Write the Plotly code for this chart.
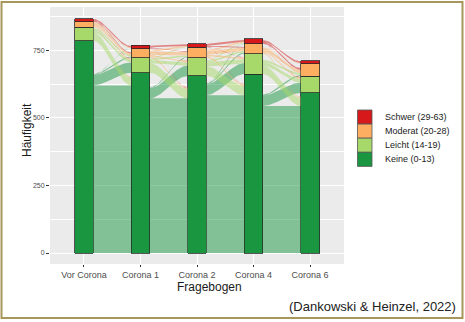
import numpy as np
import plotly.graph_objects as go

# ---------------- data ----------------
waves = ["Vor Corona", "Corona 1", "Corona 2", "Corona 4", "Corona 6"]
categories = ["Keine (0-13)", "Leicht (14-19)", "Moderat (20-28)", "Schwer (29-63)"]
colors = ["#1a9641", "#a6d96a", "#fdae61", "#d7191c"]

keine = [785, 667, 655, 662, 592]
leicht = [51, 56, 68, 75, 62]
moderat = [20, 33, 39, 37, 46]
schwer = [10, 13, 12, 19, 11]

# transitions between consecutive questionnaires
# rows: from (Keine, Leicht, Moderat, Schwer), cols: to (same order)
trans_vor_c1 = [[620, 38, 3, 1], [30, 10, 5, 1], [3, 4, 8, 3], [0, 1, 3, 5]]
trans_c1_c2 = [[572, 38, 3, 0], [35, 12, 5, 1], [4, 6, 12, 3], [1, 1, 3, 6]]
trans_c2_c4 = [[584, 40, 4, 1], [35, 15, 6, 2], [5, 6, 12, 5], [1, 1, 3, 6]]
trans_c4_c6 = [[544, 38, 4, 0], [30, 14, 8, 1], [4, 5, 12, 2], [0, 1, 6, 6]]

y_ticks = [0, 250, 500, 750]

# ---------------- figure ----------------
counts = [keine, leicht, moderat, schwer]
transitions = [trans_vor_c1, trans_c1_c2, trans_c2_c4, trans_c4_c6]

W, H = 465, 322
ML, MR, MT, MB = 50, 121, 7, 58
PW, PH = W - ML - MR, H - MT - MB


def px2x(px):
    return (px - ML) / PW


def px2y(py):
    return (H - MB - py) / PH


def rgba(hexc, a):
    hexc = hexc.lstrip("#")
    r, g, b = int(hexc[0:2], 16), int(hexc[2:4], 16), int(hexc[4:6], 16)
    return f"rgba({r},{g},{b},{a})"


fig = go.Figure()

bar_w = 1 / 3
t = np.linspace(0, 1, 40)
s = 3 * t**2 - 2 * t**3

for i, T in enumerate(transitions):
    nl = [c[i] for c in counts]
    nr = [c[i + 1] for c in counts]
    left_bottom = np.concatenate([[0], np.cumsum(nl)[:-1]]).astype(float)
    right_bottom = np.concatenate([[0], np.cumsum(nr)[:-1]]).astype(float)
    # left: outgoing flows stacked by destination
    lpos = {}
    off = left_bottom.copy()
    for a in range(4):
        for b in range(4):
            n = T[a][b]
            lpos[(a, b)] = (off[a], off[a] + n)
            off[a] += n
    # right: incoming flows stacked by source
    rpos = {}
    off = right_bottom.copy()
    for b in range(4):
        for a in range(4):
            n = T[a][b]
            rpos[(a, b)] = (off[b], off[b] + n)
            off[b] += n
    xl = i + bar_w / 2
    xr = i + 1 - bar_w / 2
    xs = xl + (xr - xl) * t
    for a in range(4):
        for b in range(4):
            if T[a][b] <= 0:
                continue
            l0, l1 = lpos[(a, b)]
            r0, r1 = rpos[(a, b)]
            yb = l0 + (r0 - l0) * s
            yt = l1 + (r1 - l1) * s
            px = np.concatenate([xs, xs[::-1], [xs[0]]])
            py = np.concatenate([yb, yt[::-1], [yb[0]]])
            fig.add_trace(go.Scatter(
                x=px, y=py, mode="lines", fill="toself",
                fillcolor=rgba(colors[a], 0.5),
                line=dict(width=0, color=rgba(colors[a], 0.5)),
                hoverinfo="skip", showlegend=False,
            ))

xidx = list(range(len(waves)))
for k in range(4):
    fig.add_trace(go.Bar(
        x=xidx, y=counts[k], width=bar_w, name=categories[k],
        marker=dict(color=colors[k], line=dict(color="#2a2a2a", width=0.8)),
        showlegend=False,
    ))

fig.update_layout(
    width=W, height=H, autosize=False,
    margin=dict(l=ML, r=MR, t=MT, b=MB, pad=0),
    barmode="stack",
    plot_bgcolor="#EBEBEB", paper_bgcolor="white",
    font=dict(family="Liberation Sans, Arial, sans-serif"),
)
fig.update_xaxes(
    range=[-0.6, 4.6], tickmode="array", tickvals=xidx, ticktext=waves,
    showgrid=True, gridcolor="white", gridwidth=1, zeroline=False, showline=False,
    ticks="outside", ticklen=2, tickcolor="#333333", tickwidth=1,
    tickfont=dict(size=9, color="#4d4d4d"), automargin=False,
)
fig.update_yaxes(
    range=[-40.7, 910], tickmode="array", tickvals=y_ticks,
    showgrid=True, gridcolor="white", gridwidth=1, zeroline=False, showline=False,
    ticks="outside", ticklen=3, tickcolor="#333333", tickwidth=1,
    tickfont=dict(size=7, color="#4d4d4d"), automargin=False,
    minor=dict(tickvals=[125, 375, 625, 875], showgrid=True, gridcolor="white",
               gridwidth=0.5, ticks=""),
)

legend_labels = {3: "Schwer (29-63)", 2: "Moderat (20-28)", 1: "Leicht (14-19)", 0: "Keine (0-13)"}

annotations = [
    dict(text="Fragebogen", x=px2x(209.5), y=px2y(287), xref="paper", yref="paper",
         xanchor="center", yanchor="middle", showarrow=False,
         font=dict(size=12, color="#1a1a1a")),
    dict(text="Häufigkeit", x=px2x(27), y=px2y(130), xref="paper", yref="paper",
         xanchor="center", yanchor="middle", showarrow=False, textangle=-90,
         font=dict(size=12, color="#1a1a1a")),
    dict(text="(Dankowski & Heinzel, 2022)", x=px2x(458), y=px2y(306),
         xref="paper", yref="paper", xanchor="right", yanchor="middle",
         showarrow=False, font=dict(size=13, color="#222222")),
]

shapes = [
    dict(type="rect", xref="paper", yref="paper",
         x0=px2x(1.5), x1=px2x(462.5), y0=px2y(318), y1=px2y(2),
         line=dict(color="#a8975c", width=2), fillcolor="rgba(0,0,0,0)"),
]

# manual legend (top to bottom: Schwer, Moderat, Leicht, Keine)
row_h = 14.1
top = 110
for j, k in enumerate([3, 2, 1, 0]):
    y0 = top + j * row_h
    shapes.append(dict(type="rect", xref="paper", yref="paper",
                       x0=px2x(357.5), x1=px2x(372), y0=px2y(y0 + row_h), y1=px2y(y0),
                       fillcolor=colors[k], line=dict(color="#555555", width=0.8)))
    annotations.append(dict(text=legend_labels[k],
                            x=px2x(382.5), y=px2y(y0 + row_h / 2), xref="paper", yref="paper",
                            xanchor="left", yanchor="middle", showarrow=False,
                            font=dict(size=9, color="#1a1a1a")))

fig.update_layout(annotations=annotations, shapes=shapes)

fig.write_html("out.html")
